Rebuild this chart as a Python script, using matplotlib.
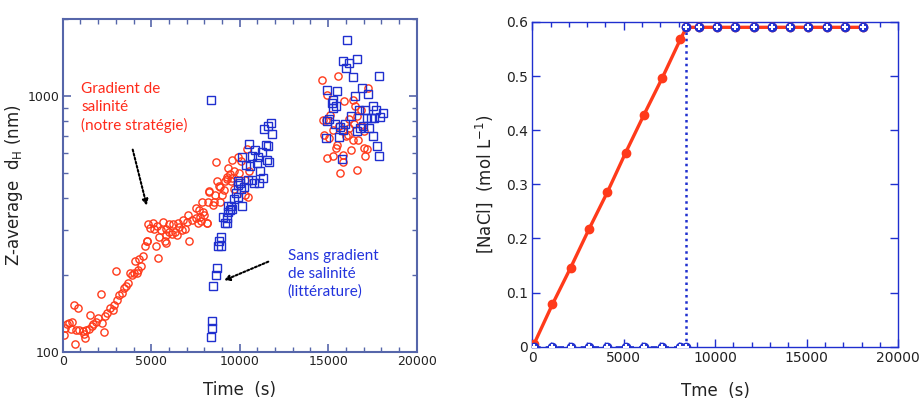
import numpy as np
import matplotlib
matplotlib.use("Agg")
import matplotlib.pyplot as plt
from matplotlib.ticker import MultipleLocator, LogLocator, FixedLocator, NullFormatter

###############################################################################
#Data - left panel (Z-average vs time)
###############################################################################
#Gradient de salinite (red circles)
t_grad = [73, 130, 260, 373, 525, 638, 881, 712, 452, 751, 938, 1130, 1203, 1316, 1260,
          1542, 1503, 1638, 1729, 1881, 2011, 2147, 2203, 2333, 2390, 2520, 2672, 2825,
          2898, 3011, 3085, 3198, 3334, 3463, 3576, 3706, 3802, 3899, 4028, 4181, 4271,
          4407, 4085, 4328, 4520, 4650, 4780, 5271, 5401, 5836,
          8661, 9356, 9452, 9548, 9266, 8735, 9170, 8848, 8283, 8605, 8984, 8226, 7854,
          8548, 8887, 7531, 7718, 7944, 7983, 7096, 7289, 7531, 7797, 8170, 6814, 7006,
          6531, 6249, 6023, 5650, 5085, 4836, 4932, 5158, 5345, 5537, 5836, 6023, 6158,
          6345, 6588, 6723, 6910, 6475, 5836, 5458, 4780, 5780, 7153,
          10396, 10074, 10526, 10300, 10300, 10453, 9888, 9582, 9695, 9961, 9509, 9266,
          9695, 9130, 8887, 8266, 8509, 8136, 7661, 7757,
          14634, 15571, 17266, 14916, 15102, 15893, 16515, 16837, 16645, 16193, 14690,
          14876, 16458, 15628, 16193, 16894, 15255, 15854, 17023, 14763, 15063, 16006,
          16136, 16385, 16701, 15515, 15441, 17023, 17210, 16272, 15289, 14950, 15854,
          17080, 15820, 16611, 15667, 16419]
d_grad = [117, 125, 129, 130, 132, 153, 149, 108, 123, 122, 122, 121, 118, 122, 114,
          140, 124, 127, 129, 132, 136, 169, 130, 120, 139, 143, 149, 147,
          153, 207, 160, 168, 170, 178, 181, 186, 204, 201, 204, 205, 209,
          218, 228, 231, 238, 261, 271, 261, 233, 268,
          551, 524, 498, 479, 483, 465, 465, 447, 421, 412, 412, 385, 385,
          385, 385, 366, 360, 352, 344, 344, 329, 334, 327, 321, 329, 324,
          321, 318, 318, 324, 321, 318, 306, 303, 310, 301, 303, 296, 290,
          296, 308, 301, 303, 288, 288, 282, 273, 271, 273,
          622, 556, 508, 472, 412, 404, 577, 565, 508, 501, 465, 475,
          434, 429, 442, 425, 377, 320, 320, 339,
          1160, 1194, 1076, 1005, 847, 960, 912, 886, 834, 815, 809,
          809, 781, 767, 751, 767, 735, 729, 729, 707, 687, 697,
          707, 676, 676, 647, 628, 628, 622, 618, 586, 574, 591,
          582, 551, 513, 501, 963]

#Sans gradient (blue squares)
t_sans = [8379, 11769, 11616, 11390, 11842, 10526, 11470, 11583, 10865, 11244, 10679,
          11018, 10147, 11526, 11656, 10961, 10340, 10582, 11147, 11334, 10679, 10453,
          11091, 10825, 10017, 9888, 10260, 10074, 9775, 9888, 9695, 10114, 9509, 9582,
          9356, 9074, 9266, 9170, 9266, 9921, 9356, 9452, 8944, 8831, 8758, 8944, 8701,
          8645, 8509, 8452, 8419, 8379,
          16080, 15820, 16193, 16611, 16006, 16385, 17854, 14950, 15515, 16894, 17266,
          16515, 15255, 15199, 15441, 15289, 17515, 16758, 17080, 17701, 18080, 17927,
          16272, 15063, 14916, 17210, 17402, 17588, 15385, 15950, 16984, 15667, 15854,
          16797, 17323, 16645, 15628, 14876, 17549, 17775, 17888, 15763]
d_sans = [969, 786, 762, 744, 709, 652, 647, 637, 614, 603, 582,
          579, 579, 565, 551, 548, 540, 535, 508, 479, 472, 472,
          460, 458, 460, 451, 442, 434, 419, 404, 397, 374, 371, 362,
          352, 337, 334, 321, 320, 465, 371, 358, 282, 273, 261, 261, 213,
          201, 182, 133, 125, 115,
          1652, 1368, 1340, 1389, 1289, 1188, 1195, 1054, 1051, 1076, 1023,
          998, 969, 940, 912, 899, 918, 886, 886, 880, 855, 829,
          834, 815, 797, 822, 822, 822, 781, 781, 767, 758, 740,
          751, 751, 729, 693, 687, 697, 641, 586, 568]

###############################################################################
#Data - right panel ([NaCl] vs time)
###############################################################################
t_nacl = [100, 1100, 2100, 3100, 4100, 5100, 6100, 7100, 8100, 8430,
          9100, 10100, 11100, 12100, 13100, 14100, 15100, 16100, 17100, 18100]
c_grad = [0.005, 0.078, 0.146, 0.217, 0.285, 0.358, 0.428, 0.496, 0.568, 0.59,
          0.59, 0.59, 0.59, 0.59, 0.59, 0.59, 0.59, 0.59, 0.59, 0.59]
t_step = 8430
c_max = 0.59

###############################################################################
#Plot
###############################################################################
red = "#ff3a1a"
blue = "#1f2fcf"
frame_left = "#5666aa"
txt = "#222222"

fig = plt.figure(figsize=(9.24, 4.01), dpi=100)
ax1 = fig.add_axes([0.0679, 0.121, 0.383, 0.832])
ax2 = fig.add_axes([0.576, 0.1354, 0.396, 0.810])

#Left panel
ax1.plot(t_grad, d_grad, linestyle="none", marker="o", ms=5.2, mfc="none", mec=red, mew=1.0)
ax1.plot(t_sans, d_sans, linestyle="none", marker="s", ms=5.2, mfc="none", mec=blue, mew=1.0)
ax1.set_yscale("log")
ax1.set_xlim(0, 20000)
ax1.set_ylim(100, 2000)
ax1.xaxis.set_major_locator(MultipleLocator(5000))
ax1.xaxis.set_minor_locator(MultipleLocator(1000))
ax1.yaxis.set_major_locator(FixedLocator([100, 1000]))
ax1.yaxis.set_minor_locator(LogLocator(base=10, subs=np.arange(2, 10)))
ax1.yaxis.set_minor_formatter(NullFormatter())
ax1.set_yticklabels(["100", "1000"])
for s in ax1.spines.values():
    s.set_color(frame_left)
    s.set_linewidth(1.5)
ax1.tick_params(which="both", direction="in", top=True, right=True, color=frame_left,
                labelsize=9, labelcolor=txt, pad=2)
ax1.tick_params(which="major", length=6, width=1.2)
ax1.tick_params(which="minor", length=3.5, width=1.0)
ax1.set_xlabel("Time  (s)", fontsize=12, color=txt, labelpad=9)
ax1.set_ylabel(r"Z-average  d$_\mathregular{H}$ (nm)", fontsize=12, color=txt, labelpad=2)

ax1.text(0.052, 0.81, "Gradient de\nsalinité\n(notre stratégie)", transform=ax1.transAxes,
         color="#ff2a1a", fontsize=11, family="Lato", va="top", ha="left", linespacing=1.35)
ax1.text(0.636, 0.31, "Sans gradient\nde salinité\n(littérature)", transform=ax1.transAxes,
         color="#2233dd", fontsize=11, family="Lato", va="top", ha="left", linespacing=1.35)
ax1.annotate("", xy=(4746, 374), xytext=(3955, 618),
             arrowprops=dict(arrowstyle="-|>", color="black", lw=1.5, linestyle=(0, (1, 1)),
                             mutation_scale=8, shrinkA=0, shrinkB=0))
ax1.annotate("", xy=(9113, 191), xytext=(11616, 226),
             arrowprops=dict(arrowstyle="-|>", color="black", lw=1.5, linestyle=(0, (1, 1)),
                             mutation_scale=8, shrinkA=0, shrinkB=0))

#Right panel
n_ramp = t_nacl.index(t_step)
ax2.plot(t_nacl[:n_ramp + 1], [0] * (n_ramp + 1), color=blue, lw=1.2, linestyle=(0, (4, 3)))
ax2.plot([t_step, t_step], [0, c_max], color=blue, lw=1.8, linestyle=(0, (1, 1.5)))
ax2.plot(t_nacl[n_ramp:], [c_max] * len(t_nacl[n_ramp:]), color=blue, lw=1.2,
         linestyle=(0, (4, 3)))
ax2.plot(t_nacl, c_grad, color=red, lw=2.4, marker="o", ms=6, mfc=red, mec=red, zorder=3)
#blue markers: no gradient
t_blue = t_nacl[:n_ramp + 1] + t_nacl[n_ramp:]
c_blue = [0] * (n_ramp + 1) + [c_max] * len(t_nacl[n_ramp:])
ax2.plot(t_blue, c_blue, linestyle="none", marker="o", ms=6, mfc=blue, mec=blue, zorder=4)
ax2.plot(t_blue, c_blue, linestyle="none", marker="+", ms=5, mec="white", mew=1.5, zorder=5)
ax2.set_xlim(0, 20000)
ax2.set_ylim(0, 0.6)
ax2.xaxis.set_major_locator(MultipleLocator(5000))
ax2.xaxis.set_minor_locator(MultipleLocator(1000))
ax2.set_yticks([0, 0.1, 0.2, 0.3, 0.4, 0.5, 0.6])
ax2.set_yticklabels(["0", "0.1", "0.2", "0.3", "0.4", "0.5", "0.6"])
for s in ax2.spines.values():
    s.set_color(blue)
    s.set_linewidth(1.0)
ax2.tick_params(which="both", direction="in", top=True, right=True, color=blue,
                labelsize=10, labelcolor=txt, pad=3)
ax2.tick_params(which="major", length=6, width=1.0)
ax2.tick_params(which="minor", length=3.5, width=1.0)
ax2.set_xlabel("Tme  (s)", fontsize=12, color=txt, labelpad=12)
ax2.set_ylabel(r"[NaCl]  (mol L$^\mathregular{-1}$)", fontsize=12, color=txt, labelpad=8)

fig.savefig("out.png", dpi=100)
